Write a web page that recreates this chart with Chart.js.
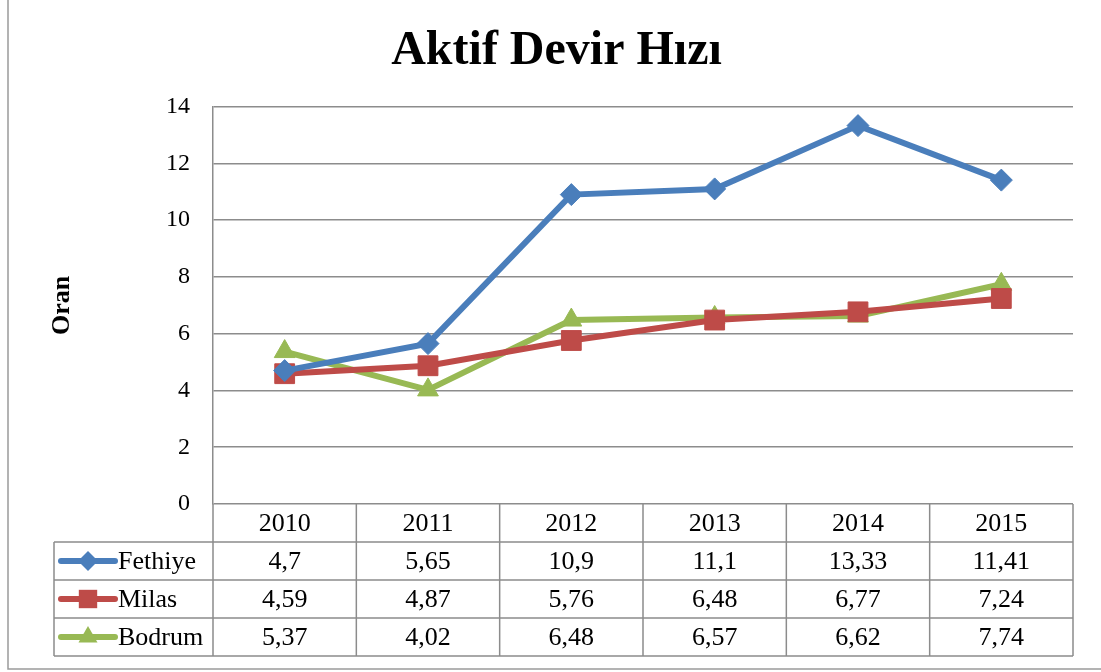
<!DOCTYPE html>
<html lang="tr">
<head>
  <meta charset="UTF-8">
  <title>Aktif Devir Hızı</title>
  <script src="https://cdn.jsdelivr.net/npm/chart.js"></script>
  <style>
    body { margin: 0; background: #fff; }
    #wrap { width: 1101px; height: 672px; position: relative; }
  </style>
</head>
<body>
  <div id="wrap"><canvas id="chart"></canvas></div>

  <script>
    const years = ['2010', '2011', '2012', '2013', '2014', '2015'];
    const fethiye = [4.7, 5.65, 10.9, 11.1, 13.33, 11.41];
    const milas = [4.59, 4.87, 5.76, 6.48, 6.77, 7.24];
    const bodrum = [5.37, 4.02, 6.48, 6.57, 6.62, 7.74];

    const serif = '"Liberation Serif", "Times New Roman", serif';
    const lineGray = '#8c8c8c';

    const series = [
      { label: 'Fethiye', data: fethiye, color: '#4a7ebb', style: 'rectRot', radius: 11 },
      { label: 'Milas', data: milas, color: '#be4b48', style: 'rect', radius: 14 },
      { label: 'Bodrum', data: bodrum, color: '#98b954', style: 'triangle', radius: 12 }
    ];

    function fmt(v) {
      return String(v).replace('.', ',');
    }

    function marker(ctx, style, r, x, y) {
      ctx.beginPath();
      if (style === 'rectRot') {
        ctx.moveTo(x, y - r); ctx.lineTo(x + r, y); ctx.lineTo(x, y + r); ctx.lineTo(x - r, y);
      } else if (style === 'rect') {
        const s = r * Math.SQRT1_2;
        ctx.rect(x - s, y - s, 2 * s, 2 * s);
      } else {
        const a = 2 * Math.PI / 3;
        ctx.moveTo(x, y - r);
        ctx.lineTo(x + Math.sin(a) * r, y - Math.cos(a) * r);
        ctx.lineTo(x - Math.sin(a) * r, y - Math.cos(a) * r);
      }
      ctx.closePath();
      ctx.fill();
    }

    // data table under the plot + outer frame
    const tablePlugin = {
      id: 'dataTable',
      afterDraw(chart) {
        const ctx = chart.ctx;
        const area = chart.chartArea;
        const xs = chart.scales.x;
        const rowH = 38;
        const legLeft = 54;
        const top = area.bottom;
        const colW = (area.right - area.left) / years.length;

        ctx.save();
        ctx.strokeStyle = lineGray;
        ctx.lineWidth = 1.5;
        ctx.beginPath();
        // horizontal lines
        for (let r = 1; r <= series.length + 1; r++) {
          const y = top + r * rowH;
          ctx.moveTo(legLeft, y); ctx.lineTo(area.right, y);
        }
        // vertical lines
        ctx.moveTo(legLeft, top + rowH); ctx.lineTo(legLeft, top + rowH * 4);
        for (let c = 0; c <= years.length; c++) {
          const x = area.left + c * colW;
          ctx.moveTo(x, top); ctx.lineTo(x, top + rowH * 4);
        }
        ctx.stroke();

        // outer frame
        ctx.strokeStyle = '#9a9a9a';
        ctx.beginPath();
        ctx.moveTo(8, 0); ctx.lineTo(8, 669); ctx.lineTo(1101, 669);
        ctx.stroke();

        ctx.fillStyle = '#000';
        ctx.font = '26px ' + serif;
        ctx.textAlign = 'center';
        ctx.textBaseline = 'middle';
        years.forEach((yr, i) => {
          ctx.fillText(yr, xs.getPixelForValue(i), top + rowH / 2 + 1);
        });
        series.forEach((s, r) => {
          const y = top + rowH * (r + 1) + rowH / 2 + 1;
          s.data.forEach((v, i) => {
            ctx.fillStyle = '#000';
            ctx.fillText(fmt(v), xs.getPixelForValue(i), y);
          });
          // legend key
          ctx.strokeStyle = s.color;
          ctx.lineWidth = 6;
          ctx.lineCap = 'round';
          ctx.beginPath();
          ctx.moveTo(61, y - 1); ctx.lineTo(115, y - 1);
          ctx.stroke();
          ctx.fillStyle = s.color;
          marker(ctx, s.style, s.radius - 1, 88, y - 1);
          ctx.fillStyle = '#000';
          ctx.textAlign = 'left';
          ctx.fillText(s.label, 118, y);
          ctx.textAlign = 'center';
        });
        ctx.restore();
      }
    };

    new Chart(document.getElementById('chart'), {
      type: 'line',
      data: {
        labels: years,
        datasets: series.map(s => ({
          label: s.label,
          data: s.data,
          borderColor: s.color,
          backgroundColor: s.color,
          borderWidth: 6,
          pointStyle: s.style,
          pointRadius: s.radius,
          pointBorderWidth: 1,
          tension: 0
        }))
      },
      options: {
        responsive: true,
        maintainAspectRatio: false,
        animation: false,
        layout: { padding: { left: 40, right: 28, top: 0, bottom: 168 } },
        plugins: {
          legend: { display: false },
          tooltip: { enabled: false },
          title: {
            display: true,
            text: 'Aktif Devir Hızı',
            color: '#000',
            font: { family: serif, size: 48, weight: 'bold', lineHeight: 1.2 },
            padding: { top: 23, bottom: 26 }
          }
        },
        scales: {
          x: {
            display: false,
            offset: true
          },
          y: {
            min: 0,
            max: 14,
            afterFit(scale) { scale.width = 173; },
            ticks: {
              stepSize: 2,
              padding: 23,
              color: '#000',
              font: { family: serif, size: 24 }
            },
            grid: { color: lineGray, lineWidth: 1.5, drawTicks: false },
            border: { color: lineGray, width: 1.5 },
            title: {
              display: true,
              text: 'Oran',
              color: '#000',
              font: { family: serif, size: 26, weight: 'bold' },
              padding: { top: 7, bottom: 0 }
            }
          }
        }
      },
      plugins: [tablePlugin]
    });
  </script>
</body>
</html>
